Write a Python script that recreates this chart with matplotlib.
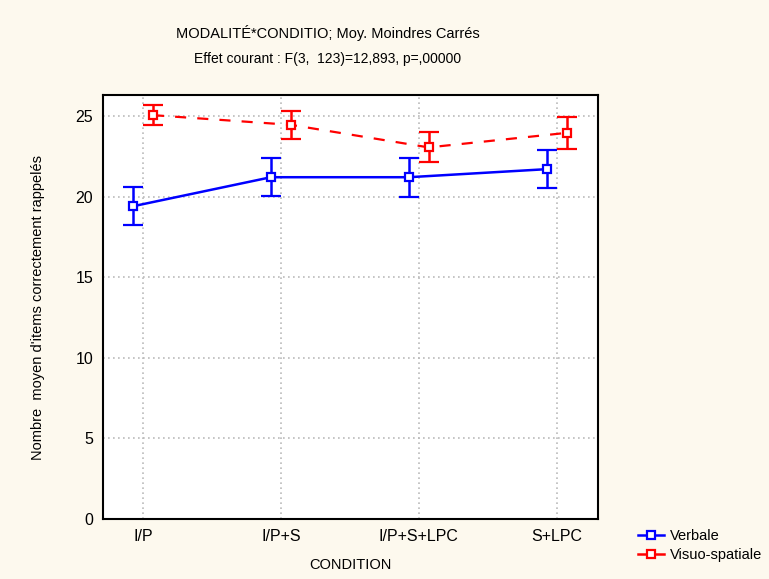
import matplotlib

matplotlib.use("Agg")
import matplotlib.pyplot as plt
from matplotlib.lines import Line2D
import numpy as np

conditions = ["I/P", "I/P+S", "I/P+S+LPC", "S+LPC"]
verbale = [19.4, 21.2, 21.2, 21.7]
verbale_err = [1.17, 1.17, 1.2, 1.17]
visuo = [25.05, 24.45, 23.05, 23.95]
visuo_err = [0.62, 0.87, 0.93, 1.0]

BG = "#FDF9EE"
BLUE = "#0000FF"
RED = "#FF0000"

plt.rcParams["font.family"] = ["Liberation Sans", "DejaVu Sans"]

fig = plt.figure(figsize=(7.69, 5.79), dpi=100, facecolor=BG)
ax = fig.add_axes([103 / 769, 1 - 519 / 579, 495 / 769, 424 / 579])
ax.set_facecolor("white")

x = np.arange(len(conditions))
off = 0.072

ax.errorbar(x - off, verbale, yerr=verbale_err, color=BLUE, lw=1.8,
            marker="s", ms=6, mfc="white", mec=BLUE, mew=1.6,
            capsize=7, capthick=1.8, elinewidth=1.8, zorder=4)
ax.errorbar(x + off, visuo, yerr=visuo_err, color=RED, lw=1.6, ls=(0, (5, 5)),
            marker="s", ms=6, mfc="white", mec=RED, mew=1.6,
            capsize=7, capthick=1.8, elinewidth=1.8, zorder=4)

ax.set_xlim(-0.29, 3.3)
ax.set_ylim(0, 26.3)
ax.set_xticks(x)
ax.set_xticklabels(conditions, fontsize=10.5)
ax.set_yticks([0, 5, 10, 15, 20, 25])
ax.tick_params(axis="both", length=0, labelsize=11.5, pad=7)
ax.grid(True, color="#BBBBBB", ls=(0, (1, 2)), lw=1.2)
for s in ax.spines.values():
    s.set_linewidth(1.5)
    s.set_color("black")

ax.set_xlabel("CONDITION", fontsize=10.5, labelpad=10)
ax.set_ylabel("Nombre  moyen d'items correctement rappelés", fontsize=10.5, labelpad=22)

fig.text(328 / 769, 1 - 33 / 579, "MODALITÉ*CONDITIO; Moy. Moindres Carrés",
         ha="center", va="center", fontsize=10.5)
fig.text(328 / 769, 1 - 59 / 579, "Effet courant : F(3,  123)=12,893, p=,00000",
         ha="center", va="center", fontsize=10)

handles = [
    Line2D([], [], color=BLUE, lw=1.8, marker="s", ms=6, mfc="white", mec=BLUE, mew=1.6),
    Line2D([], [], color=RED, lw=1.8, marker="s", ms=6, mfc="white", mec=RED, mew=1.6),
]
fig.legend(handles, ["Verbale", "Visuo-spatiale"], loc="upper left",
           bbox_to_anchor=(628 / 769, 1 - 519 / 579), frameon=False,
           fontsize=10.5, handlelength=1.8, handletextpad=0.35, labelspacing=0.35,
           borderpad=0.2)

fig.savefig("out.png", dpi=100, facecolor=BG)
